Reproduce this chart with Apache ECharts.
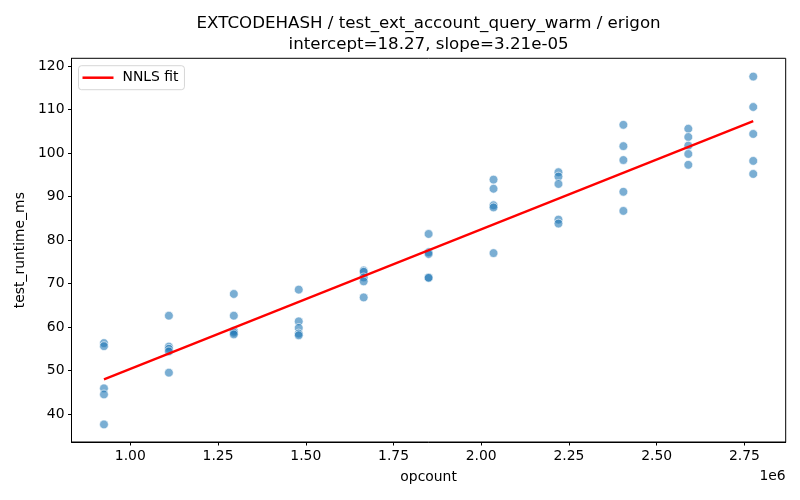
<!DOCTYPE html>
<html>
<head>
<meta charset="utf-8">
<script src="https://cdn.jsdelivr.net/npm/echarts@6/dist/echarts.min.js"></script>
<style>
  html, body { margin: 0; padding: 0; background: #fff; }
  #chart { width: 800px; height: 500px; }
</style>
</head>
<body>
<div id="chart"></div>
<script>
// opcount levels (x) and the runtimes measured at each level (y)
let opcounts = [925000, 1110000, 1295000, 1480000, 1665000, 1850000, 2035000, 2220000, 2405000, 2590000, 2775000];
let runtimes = [
    [56.3, 55.6, 45.9, 44.5, 37.6],
    [62.6, 55.5, 55.0, 54.4, 49.5],
    [67.6, 62.6, 59.1, 58.7, 58.3],
    [68.6, 61.3, 59.8, 58.5, 58.1],
    [73.0, 72.7, 71.4, 70.5, 66.8],
    [81.4, 77.2, 76.8, 71.4, 71.3],
    [93.9, 91.8, 88.0, 87.5, 77.0],
    [95.6, 94.6, 92.9, 84.7, 83.8],
    [106.5, 101.6, 98.4, 91.1, 86.7],
    [105.6, 103.7, 101.7, 99.8, 97.3],
    [117.6, 110.6, 104.4, 98.2, 95.2]
];
// NNLS fit line endpoints
let fitX = [925000, 2775000];
let fitY = [47.96, 107.35];
// tick labels
let xTicks = [1000000, 1250000, 1500000, 1750000, 2000000, 2250000, 2500000, 2750000];
let yTicks = [40, 50, 60, 70, 80, 90, 100, 110, 120];

let points = [];
for (let i = 0; i < opcounts.length; i++) {
    runtimes[i].forEach(v => points.push([opcounts[i], v]));
}
let fitLine = fitX.map((x, i) => [x, fitY[i]]);

let font = 'DejaVu Sans';
let myChart = echarts.init(document.getElementById('chart'));

let option = {
    animation: false,
    backgroundColor: '#fff',
    textStyle: { fontFamily: font },
    title: {
        text: 'EXTCODEHASH / test_ext_account_query_warm / erigon\nintercept=18.27, slope=3.21e-05',
        left: 428.6,
        textAlign: 'center',
        top: 13.5,
        padding: 0,
        textStyle: { fontFamily: font, fontSize: 16.67, fontWeight: 'normal', color: '#000', lineHeight: 20.5 }
    },
    legend: {
        left: 78.5,
        top: 65.7,
        orient: 'vertical',
        padding: [5, 6, 5, 4],
        itemWidth: 31,
        itemHeight: 2.5,
        icon: 'rect',
        borderColor: 'rgba(204,204,204,0.8)',
        borderWidth: 1,
        borderRadius: 3,
        backgroundColor: 'rgba(255,255,255,0.8)',
        textStyle: { fontFamily: font, fontSize: 13.9, color: '#000', padding: [0, 0, 0, 4] },
        data: ['NNLS fit']
    },
    grid: {
        left: 71.5,
        right: 14.3,
        top: 58.3,
        bottom: 58,
        show: true,
        borderColor: '#000',
        borderWidth: 1
    },
    xAxis: {
        type: 'value',
        min: 832500,
        max: 2867500,
        name: 'opcount',
        nameLocation: 'middle',
        nameGap: 28,
        nameTextStyle: { fontFamily: font, fontSize: 13.9, color: '#000' },
        splitLine: { show: false },
        axisLine: { show: true, lineStyle: { color: '#000', width: 1 } },
        axisTick: { show: true, length: 3.5, lineStyle: { color: '#000', width: 1 }, customValues: xTicks },
        axisLabel: {
            color: '#000', fontFamily: font, fontSize: 13.9, margin: 7,
            customValues: xTicks,
            formatter: v => (v / 1e6).toFixed(2)
        }
    },
    yAxis: {
        type: 'value',
        min: 33.56,
        max: 121.8,
        name: 'test_runtime_ms',
        nameLocation: 'middle',
        nameGap: 42,
        nameTextStyle: { fontFamily: font, fontSize: 13.9, color: '#000' },
        splitLine: { show: false },
        axisLine: { show: true, lineStyle: { color: '#000', width: 1 } },
        axisTick: { show: true, length: 3.5, lineStyle: { color: '#000', width: 1 }, customValues: yTicks },
        axisLabel: {
            color: '#000', fontFamily: font, fontSize: 13.9, margin: 7,
            customValues: yTicks
        }
    },
    graphic: [{
        type: 'text',
        right: 14.3,
        top: 469,
        style: { text: '1e6', fontFamily: font, fontSize: 13.9, fill: '#000' }
    }],
    series: [{
        name: 'runs',
        type: 'scatter',
        symbolSize: 8.8,
        z: 2,
        itemStyle: { color: 'rgba(31,119,180,0.74)', borderColor: '#fff', borderWidth: 0.8 },
        data: points
    }, {
        name: 'NNLS fit',
        type: 'line',
        showSymbol: false,
        z: 3,
        lineStyle: { color: '#ff0000', width: 2.2 },
        itemStyle: { color: '#ff0000' },
        data: fitLine
    }]
};

myChart.setOption(option);
</script>
</body>
</html>
